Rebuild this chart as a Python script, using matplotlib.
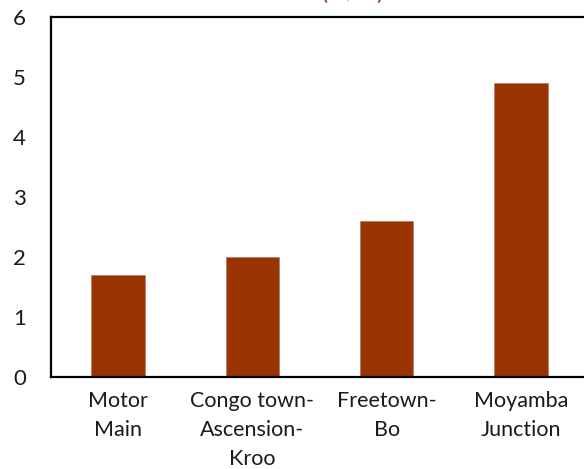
import matplotlib.pyplot as plt

plt.rcParams['font.family'] = ['Lato', 'DejaVu Sans']

roads = ["Motor\nMain", "Congo town-\nAscension-\nKroo", "Freetown-\nBo", "Moyamba\nJunction"]
values = [1.7, 2.0, 2.6, 4.9]
y_ticks = [0, 1, 2, 3, 4, 5, 6]

fig = plt.figure(figsize=(5.84, 4.69), dpi=100)
ax = fig.add_axes([51 / 584, 1 - 377 / 469, 537 / 584, 360 / 469])

ax.bar(range(len(values)), values, width=0.4, color='#993300', edgecolor='#b08070', linewidth=0.6)

ax.set_xlim(-0.5, len(values) - 0.5)
ax.set_ylim(0, 6)
ax.set_yticks(y_ticks)
ax.set_xticks(range(len(roads)))
ax.set_xticklabels(roads, fontsize=15.5, linespacing=1.58, color='#1a1a1a')
ax.tick_params(axis='y', length=0, pad=18, labelsize=16, labelcolor='#1a1a1a')
ax.tick_params(axis='x', length=0, pad=10)

for side in ['left', 'bottom', 'top', 'right']:
    ax.spines[side].set_linewidth(1.6)
    ax.spines[side].set_color('black')

# title is cut off by the top edge in the original, only descenders show
fig.text(322 / 584, 1.0, "(m/hr)", color='#a0282c', fontsize=16, ha='left', va='baseline')

fig.savefig('out.png', dpi=100)
